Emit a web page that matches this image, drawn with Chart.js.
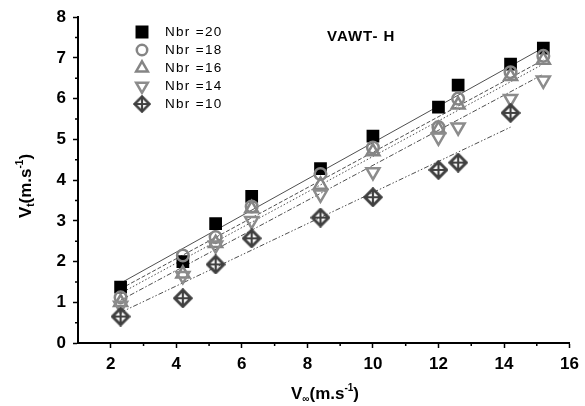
<!DOCTYPE html>
<html>
<head>
<meta charset="utf-8">
<script src="https://cdn.jsdelivr.net/npm/chart.js@4.4.0/dist/chart.umd.min.js"></script>
<style>
  body { margin: 0; background: #fff; }
  canvas { display: block; }
</style>
</head>
<body>
<canvas id="grafico" width="585" height="406"></canvas>
<script>
const vInf = [2.3, 4.2, 5.2, 6.3, 8.4, 10, 12, 12.6, 14.2, 15.2];
const nbr20 = [1.37, 2.0, 2.93, 3.6, 4.28, 5.08, 5.79, 6.33, 6.85, 7.24];
const nbr18 = [1.12, 2.15, 2.6, 3.35, 4.15, 4.8, 5.3, 6.0, 6.65, 7.05];
const nbr16 = [1.0, 1.7, 2.45, 3.3, 3.88, 4.7, 5.25, 5.85, 6.55, 6.95];
const nbr14 = [0.92, 1.65, 2.4, 3.0, 3.65, 4.2, 5.05, 5.3, 6.0, 6.45];
const nbr10 = [0.65, 1.1, 1.93, 2.57, 3.08, 3.58, 4.25, 4.43, 5.65];

// lignes d'ajustement lineaire (extremites)
const fitX = [2.3, 15.2];
const fitX10 = [2.3, 14.2];
const fit20 = [1.47, 7.25];
const fit18 = [1.33, 6.95];
const fit16 = [1.22, 6.85];
const fit14 = [1.05, 6.6];
const fit10 = [0.75, 5.3];

const xTicks = [2, 4, 6, 8, 10, 12, 14, 16];
const yTicks = [0, 1, 2, 3, 4, 5, 6, 7, 8];

const pts = (xs, ys) => ys.map((y, i) => ({ x: xs[i], y: y }));

// marqueur losange avec croix
function losange() {
  const c = document.createElement('canvas');
  c.width = 20; c.height = 20;
  const g = c.getContext('2d');
  g.strokeStyle = '#404040';
  g.lineWidth = 3;
  g.beginPath();
  g.moveTo(10, 1.8); g.lineTo(18.2, 10); g.lineTo(10, 18.2); g.lineTo(1.8, 10); g.closePath();
  g.stroke();
  g.lineWidth = 2.2;
  g.beginPath();
  g.moveTo(10, 3); g.lineTo(10, 17);
  g.moveTo(3, 10); g.lineTo(17, 10);
  g.stroke();
  return c;
}
const diamond = losange();

const series = [
  { label: 'Nbr =20', data: nbr20, style: 'rect', radius: 9, color: '#000', fill: '#000', rot: 0, order: 5 },
  { label: 'Nbr =18', data: nbr18, style: 'circle', radius: 5.8, color: '#858585', fill: 'rgba(0,0,0,0)', rot: 0, order: 4 },
  { label: 'Nbr =16', data: nbr16, style: 'triangle', radius: 7.5, color: '#858585', fill: 'rgba(0,0,0,0)', rot: 0, order: 3 },
  { label: 'Nbr =14', data: nbr14, style: 'triangle', radius: 7.5, color: '#8c8c8c', fill: 'rgba(0,0,0,0)', rot: 180, order: 2 },
  { label: 'Nbr =10', data: nbr10, style: diamond, radius: 9, color: '#404040', fill: 'rgba(0,0,0,0)', rot: 0, order: 1 }
];

const fits = [
  { xs: fitX, ys: fit20, dash: [] },
  { xs: fitX, ys: fit18, dash: [4, 2] },
  { xs: fitX, ys: fit16, dash: [1.5, 2] },
  { xs: fitX, ys: fit14, dash: [5, 2, 1.5, 2] },
  { xs: fitX10, ys: fit10, dash: [5, 2, 1.5, 2, 1.5, 2] }
];

const datasets = [];
series.forEach(s => {
  datasets.push({
    type: 'scatter',
    label: s.label,
    data: pts(vInf, s.data),
    pointStyle: s.style,
    pointRadius: s.radius,
    pointHoverRadius: s.radius,
    pointRotation: s.rot,
    pointBorderWidth: s.style === 'rect' ? 0 : 2.5,
    pointBorderColor: s.color,
    pointBackgroundColor: s.fill,
    showLine: false,
    order: s.order
  });
});
fits.forEach(f => {
  datasets.push({
    type: 'line',
    data: pts(f.xs, f.ys),
    borderColor: '#222',
    borderWidth: 0.8,
    borderDash: f.dash,
    pointRadius: 0,
    fill: false,
    order: 10
  });
});

function texteRiche(ctx, parts, cx, cy) {
  let total = 0;
  parts.forEach(p => { ctx.font = p.font; total += ctx.measureText(p.t).width; });
  let x = cx - total / 2;
  parts.forEach(p => {
    ctx.font = p.font;
    ctx.fillText(p.t, x, cy + (p.dy || 0));
    x += ctx.measureText(p.t).width;
  });
}

const decor = {
  id: 'decor',
  afterDraw(chart) {
    const ctx = chart.ctx;
    const xs = chart.scales.x, ys = chart.scales.y;
    ctx.save();
    // petites graduations
    ctx.strokeStyle = '#000';
    ctx.lineWidth = 1.5;
    ctx.beginPath();
    for (let v = 0.5; v < 8; v += 1) {
      const p = ys.getPixelForValue(v);
      ctx.moveTo(xs.left, p); ctx.lineTo(xs.left - 3, p);
    }
    for (let v = 3; v < 16; v += 2) {
      const p = xs.getPixelForValue(v);
      ctx.moveTo(p, ys.bottom); ctx.lineTo(p, ys.bottom + 3);
    }
    ctx.stroke();

    // legende
    ctx.textBaseline = 'middle';
    ctx.textAlign = 'left';
    const ly = [32, 50, 68, 86, 104];
    series.forEach((s, i) => {
      const r = s.radius * 0.9;
      if (s.style === diamond) {
        ctx.drawImage(diamond, 142 - 9, ly[i] - 9, 18, 18);
      } else {
        ctx.strokeStyle = s.color;
        ctx.fillStyle = s.fill;
        ctx.lineWidth = s.style === 'rect' ? 0 : 2.5;
        Chart.helpers.drawPoint(ctx, { pointStyle: s.style, radius: r, rotation: s.rot, borderWidth: ctx.lineWidth }, 142, ly[i]);
      }
      ctx.fillStyle = '#000';
      ctx.font = '13.5px "Liberation Sans", Arial';
      ctx.letterSpacing = '1.3px';
      ctx.fillText(s.label, 165, ly[i]);
      ctx.letterSpacing = '0px';
    });

    // titre
    ctx.font = 'bold 15px "Liberation Sans", Arial';
    ctx.letterSpacing = '1px';
    ctx.fillText('VAWT- H', 327, 37);
    ctx.letterSpacing = '0px';

    // titres des axes
    ctx.fillStyle = '#000';
    ctx.textBaseline = 'alphabetic';
    const big = 'bold 17px "Liberation Sans", Arial';
    const small = 'bold 10px "Liberation Sans", Arial';
    texteRiche(ctx, [
      { t: 'V', font: big },
      { t: '\u221e', font: small, dy: 3 },
      { t: '(m.s', font: big },
      { t: '-1', font: small, dy: -8 },
      { t: ')', font: big }
    ], 325, 399);
    ctx.save();
    ctx.translate(31, 186);
    ctx.rotate(-Math.PI / 2);
    texteRiche(ctx, [
      { t: 'V', font: big },
      { t: 't', font: small, dy: 3 },
      { t: '(m.s', font: big },
      { t: '-1', font: small, dy: -8 },
      { t: ')', font: big }
    ], 0, 0);
    ctx.restore();
    ctx.restore();
  }
};

new Chart(document.getElementById('grafico'), {
  type: 'scatter',
  data: { datasets: datasets },
  options: {
    responsive: false,
    animation: false,
    layout: { padding: { left: 0, top: 16, right: 15, bottom: 0 } },
    scales: {
      x: {
        type: 'linear',
        min: 1,
        max: 16,
        afterBuildTicks: s => { s.ticks = xTicks.map(v => ({ value: v })); },
        afterFit: s => { s.height = 63; },
        grid: { drawOnChartArea: false, tickLength: 5, tickWidth: 1.5, tickColor: '#000' },
        border: { display: true, color: '#000', width: 2 },
        ticks: { color: '#000', padding: 6, font: { family: '"Liberation Sans", Arial', size: 17, weight: 'bold' } }
      },
      y: {
        type: 'linear',
        min: 0,
        max: 8,
        afterBuildTicks: s => { s.ticks = yTicks.map(v => ({ value: v })); },
        afterFit: s => { s.width = 78; },
        grid: { drawOnChartArea: false, tickLength: 5, tickWidth: 1.5, tickColor: '#000' },
        border: { display: true, color: '#000', width: 2 },
        ticks: { color: '#000', padding: 7, font: { family: '"Liberation Sans", Arial', size: 17, weight: 'bold' } }
      }
    },
    plugins: {
      legend: { display: false },
      tooltip: { enabled: false }
    }
  },
  plugins: [decor]
});
</script>
</body>
</html>
